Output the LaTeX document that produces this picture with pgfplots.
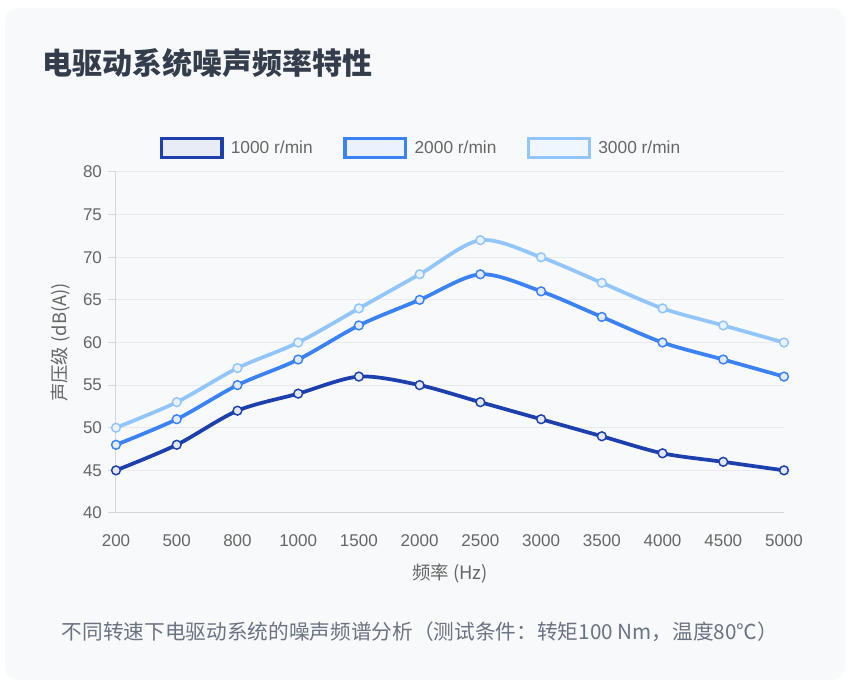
\documentclass[border=0pt]{standalone}
\usepackage{pgfplots}
\pgfplotsset{compat=1.18}
\usepackage{fontspec}
\setmainfont{Liberation Sans}
\newfontfamily\cjk{Noto Sans CJK SC}
\definecolor{cA}{HTML}{1E40AF}
\definecolor{cB}{HTML}{3B82F6}
\definecolor{cC}{HTML}{93C5FD}
\definecolor{cardbg}{HTML}{F8F9FB}
\definecolor{gridc}{HTML}{E8EAED}
\definecolor{axc}{HTML}{D4D6DA}
\definecolor{tickc}{HTML}{666666}
\definecolor{titlec}{HTML}{343D4B}
\definecolor{capc}{HTML}{6B7280}
\begin{document}
\begin{tikzpicture}
\path[use as bounding box, fill=white] (0,0) rectangle (638.25pt,521.25pt);
\fill[cardbg, rounded corners=9pt] (3.75pt,11.25pt) rectangle (633.75pt,515.25pt);
\node[anchor=base west, text=titlec, font=\cjk\bfseries\fontsize{22.5pt}{26pt}\selectfont, inner sep=0pt] at (31.5pt,465pt) {电驱动系统噪声频率特性};
\node[anchor=center, text=capc, font=\cjk\fontsize{15.5pt}{19pt}\selectfont, inner sep=0pt] at (315pt,47.25pt) {不同转速下电驱动系统的噪声频谱分析（测试条件：转矩100 Nm，温度80℃）};
\begin{axis}[
  at={(87pt,136.5pt)}, anchor=south west,
  scale only axis, width=501pt, height=255.75pt,
  xmin=0, xmax=11, ymin=40, ymax=80,
  xtick={0,...,11},
  xticklabels={200,500,800,1000,1500,2000,2500,3000,3500,4000,4500,5000},
  ytick={40,45,...,80},
  axis x line*=bottom, axis y line*=left,
  axis line style={axc, line width=0.75pt, -},
  ymajorgrids, grid style={gridc, line width=0.75pt},
  major x tick style={draw=none},
  major y tick style={axc, line width=0.75pt},
  tick align=outside, major tick length=6pt,
  ticklabel style={text=tickc, font=\fontsize{12.75pt}{15pt}\selectfont},
  /pgf/number format/assume math mode=true,
  xticklabel style={yshift=-7pt},
  yticklabel style={xshift=-1pt},
  xlabel={\cjk 频率 (Hz)},
  ylabel={\cjk 声压级 (dB(A))},
  label style={text=tickc, font=\fontsize{13.8pt}{16pt}\selectfont},
  xlabel style={yshift=-6pt},
  ylabel style={yshift=3pt},
  clip=false,
  legend columns=3,
  legend style={at={(0.457,1.070)}, anchor=center, draw=none, fill=none,
    font=\fontsize{13pt}{15pt}\selectfont, text=tickc, inner sep=0pt,
    /tikz/every even column/.append style={column sep=21pt}},
  legend cell align=left,
]
\addlegendimage{legend image code/.code={\draw[draw=cA,line width=2.4pt,fill=cA!10!white] (0pt,-7pt) rectangle (45.6pt,7pt); \path (50pt,0pt);}}
\addlegendentry{1000 r/min}
\addlegendimage{legend image code/.code={\draw[draw=cB,line width=2.4pt,fill=cB!10!white] (0pt,-7pt) rectangle (45.6pt,7pt); \path (50pt,0pt);}}
\addlegendentry{2000 r/min}
\addlegendimage{legend image code/.code={\draw[draw=cC,line width=2.4pt,fill=cC!15!white] (0pt,-7pt) rectangle (45.6pt,7pt); \path (50pt,0pt);}}
\addlegendentry{3000 r/min}
\addplot[cC, line width=2.8pt, smooth, tension=0.5, mark=*, mark size=3.3pt,
  mark options={draw=cC, fill=cC!20!white, line width=1.1pt}, forget plot]
  coordinates {(0,50)(1,53)(2,57)(3,60)(4,64)(5,68)(6,72)(7,70)(8,67)(9,64)(10,62)(11,60)};
\addplot[cB, line width=2.8pt, smooth, tension=0.5, mark=*, mark size=3.3pt,
  mark options={draw=cB, fill=cB!15!white, line width=1.1pt}, forget plot]
  coordinates {(0,48)(1,51)(2,55)(3,58)(4,62)(5,65)(6,68)(7,66)(8,63)(9,60)(10,58)(11,56)};
\addplot[cA, line width=2.8pt, smooth, tension=0.5, mark=*, mark size=3.3pt,
  mark options={draw=cA, fill=cA!12!white, line width=1.1pt}, forget plot]
  coordinates {(0,45)(1,48)(2,52)(3,54)(4,56)(5,55)(6,53)(7,51)(8,49)(9,47)(10,46)(11,45)};
\end{axis}
\end{tikzpicture}
\end{document}
